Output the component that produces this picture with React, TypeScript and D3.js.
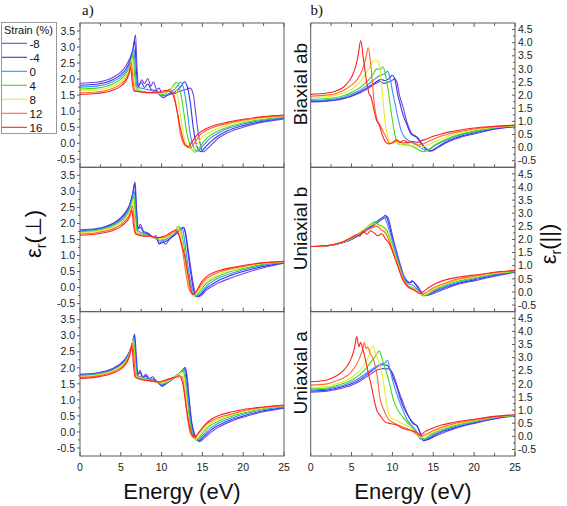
import React from "react";
import * as d3 from "d3";

type Pt = [number, number];

const STRAINS = ["-8", "-4", "0", "4", "8", "12", "16"];
const COLORS = ["#7a3fe0", "#3434ee", "#3d8ef5", "#3ddc1a", "#e2ee2a", "#ff6633", "#ff1f1f"];
const X_TICKS = [0, 5, 10, 15, 20, 25];
const PERP_TICKS = [-0.5, 0, 0.5, 1, 1.5, 2, 2.5, 3, 3.5];
const PAR_TICKS = [-0.5, 0, 0.5, 1, 1.5, 2, 2.5, 3, 3.5, 4, 4.5];
const ROW_LABELS = ["Biaxial ab", "Uniaxial b", "Uniaxial a"];

// ε(⊥), biaxial ab strain — series ordered -8, -4, 0, 4, 8, 12, 16 %
const perpBiaxialAb: Pt[][] = [
  [[0,1.87],[2,1.9],[4,2.05],[5,2.22],[5.6,2.4],[6.1,2.65],[6.5,2.95],[6.8,3.38],[7.0,2.3],[7.2,1.78],[7.55,1.98],[7.9,1.86],[8.3,2.02],[8.7,1.78],[9.0,1.92],[9.4,1.68],[9.7,1.72],[10.1,1.5],[10.5,1.48],[11.0,1.56],[11.6,1.55],[12.2,1.62],[12.8,1.66],[13.5,1.72],[13.9,1.5],[14.2,0.9],[14.5,0.3],[14.8,-0.1],[15.1,-0.27],[15.5,-0.2],[16.2,-0.02],[17,0.17],[18,0.32],[20,0.5],[22.5,0.66],[25,0.76]],
  [[0,1.81],[2,1.84],[4,1.98],[5,2.14],[5.6,2.3],[6.1,2.55],[6.45,2.85],[6.7,3.2],[6.9,2.3],[7.1,1.75],[7.5,1.9],[7.9,1.74],[8.3,1.85],[8.8,1.66],[9.3,1.65],[9.8,1.5],[10.2,1.42],[10.7,1.5],[11.3,1.55],[11.9,1.65],[12.4,1.78],[12.8,1.92],[13.1,1.8],[13.5,1.3],[13.9,0.45],[14.3,-0.08],[14.8,-0.26],[15.3,-0.14],[16,0.04],[17,0.24],[18,0.38],[20,0.55],[22.5,0.69],[25,0.78]],
  [[0,1.75],[2,1.78],[4,1.92],[5,2.07],[5.6,2.22],[6.1,2.45],[6.4,2.7],[6.6,2.98],[6.8,2.2],[7.0,1.74],[7.5,1.72],[8.0,1.69],[8.5,1.66],[9.0,1.62],[9.5,1.56],[10.0,1.48],[10.5,1.5],[11.2,1.6],[11.8,1.74],[12.3,1.9],[12.7,1.72],[13.1,1.1],[13.5,0.3],[13.9,-0.1],[14.4,-0.25],[15,-0.1],[15.8,0.12],[17,0.33],[18,0.45],[20,0.6],[22.5,0.72],[25,0.8]],
  [[0,1.69],[2,1.72],[4,1.85],[5,2.0],[5.6,2.15],[6.0,2.35],[6.3,2.58],[6.5,2.82],[6.7,2.1],[6.9,1.7],[7.5,1.63],[8.5,1.59],[9.5,1.56],[10.2,1.52],[10.8,1.62],[11.3,1.75],[11.8,1.9],[12.2,1.72],[12.7,1.0],[13.1,0.3],[13.6,-0.12],[14.1,-0.28],[14.6,-0.15],[15.3,0.1],[16,0.25],[17,0.39],[18,0.49],[20,0.64],[22.5,0.75],[25,0.82]],
  [[0,1.63],[2,1.66],[4,1.78],[5,1.92],[5.6,2.07],[6.0,2.26],[6.25,2.45],[6.4,2.66],[6.6,2.0],[6.8,1.68],[7.5,1.61],[8.5,1.59],[9.5,1.56],[10.3,1.56],[10.9,1.66],[11.4,1.76],[11.8,1.64],[12.3,0.9],[12.7,0.25],[13.2,-0.1],[13.8,-0.2],[14.3,-0.05],[15,0.2],[16,0.36],[17,0.47],[18,0.55],[20,0.68],[22.5,0.78],[25,0.84]],
  [[0,1.57],[2,1.6],[4,1.71],[5,1.85],[5.5,1.97],[5.9,2.15],[6.15,2.32],[6.3,2.52],[6.5,1.95],[6.7,1.65],[7.5,1.6],[8.5,1.58],[9.5,1.58],[10.4,1.6],[11.0,1.68],[11.4,1.58],[11.9,1.0],[12.3,0.3],[12.8,-0.05],[13.5,-0.15],[14.0,0.0],[14.7,0.26],[15.5,0.4],[16.5,0.51],[18,0.61],[20,0.72],[22.5,0.81],[25,0.86]],
  [[0,1.52],[2,1.55],[4,1.65],[5,1.78],[5.5,1.9],[5.8,2.03],[6.05,2.2],[6.2,2.38],[6.4,1.9],[6.6,1.63],[7.5,1.6],[8.5,1.58],[9.5,1.59],[10.5,1.64],[11.0,1.62],[11.5,1.45],[11.9,1.0],[12.4,0.35],[12.9,-0.05],[13.3,-0.1],[13.8,0.08],[14.5,0.3],[15.5,0.46],[16.5,0.56],[18,0.65],[20,0.75],[22.5,0.83],[25,0.88]],
];

// ε(⊥), uniaxial b strain
const perpUniaxialB: Pt[][] = [
  [[0,1.8],[2,1.84],[4,2.0],[5,2.18],[5.6,2.36],[6.1,2.6],[6.5,2.95],[6.75,3.3],[6.95,2.4],[7.15,1.85],[7.4,1.97],[7.8,1.75],[8.2,1.72],[8.6,1.64],[9.0,1.55],[9.3,1.62],[9.7,1.35],[10.1,1.45],[10.5,1.35],[11.0,1.52],[11.5,1.62],[12.0,1.74],[12.4,1.84],[12.7,1.88],[12.95,1.7],[13.3,1.1],[13.7,0.4],[14.0,-0.05],[14.4,-0.29],[14.9,-0.24],[15.5,-0.08],[16.3,0.05],[17.2,0.17],[18.5,0.3],[20,0.43],[22.5,0.62],[25,0.76]],
  [[0,1.78],[2,1.82],[4,1.98],[5,2.15],[5.6,2.33],[6.1,2.57],[6.45,2.92],[6.7,3.25],[6.9,2.4],[7.1,1.82],[7.4,1.88],[7.8,1.72],[8.3,1.68],[8.8,1.6],[9.3,1.55],[9.8,1.38],[10.3,1.42],[10.8,1.48],[11.4,1.6],[12.0,1.72],[12.4,1.82],[12.7,1.87],[12.9,1.72],[13.2,1.15],[13.6,0.4],[13.9,-0.05],[14.3,-0.28],[14.8,-0.22],[15.5,-0.02],[16.3,0.12],[17.2,0.25],[18.5,0.38],[20,0.5],[22.5,0.66],[25,0.77]],
  [[0,1.76],[2,1.8],[4,1.95],[5,2.11],[5.6,2.28],[6.1,2.5],[6.4,2.75],[6.65,3.02],[6.85,2.3],[7.05,1.78],[7.5,1.72],[8,1.66],[8.5,1.62],[9,1.58],[9.5,1.5],[10,1.45],[10.5,1.5],[11.1,1.58],[11.7,1.72],[12.3,1.86],[12.6,1.8],[12.9,1.3],[13.3,0.55],[13.7,0.0],[14.2,-0.27],[14.7,-0.2],[15.4,0.02],[16.3,0.2],[17.2,0.32],[18.5,0.44],[20,0.55],[22.5,0.7],[25,0.78]],
  [[0,1.74],[2,1.78],[4,1.92],[5,2.07],[5.6,2.22],[6.05,2.42],[6.35,2.62],[6.6,2.85],[6.8,2.2],[7.0,1.72],[7.5,1.67],[8.5,1.6],[9.5,1.54],[10.2,1.5],[10.8,1.58],[11.5,1.72],[12.1,1.91],[12.4,1.75],[12.8,1.2],[13.2,0.45],[13.6,-0.05],[14.1,-0.27],[14.6,-0.15],[15.3,0.08],[16.3,0.27],[17.2,0.38],[18.5,0.5],[20,0.59],[22.5,0.73],[25,0.79]],
  [[0,1.71],[2,1.75],[4,1.88],[5,2.02],[5.6,2.16],[6.0,2.33],[6.3,2.5],[6.5,2.72],[6.7,2.1],[6.9,1.7],[7.5,1.65],[8.5,1.6],[9.5,1.55],[10.3,1.52],[10.9,1.6],[11.5,1.72],[12.0,1.85],[12.3,1.7],[12.7,1.15],[13.1,0.4],[13.5,-0.08],[14.0,-0.25],[14.5,-0.12],[15.2,0.12],[16.3,0.33],[17.2,0.44],[18.5,0.55],[20,0.63],[22.5,0.76],[25,0.8]],
  [[0,1.67],[2,1.71],[4,1.83],[5,1.96],[5.6,2.1],[6.0,2.25],[6.25,2.4],[6.45,2.55],[6.65,2.0],[6.85,1.68],[7.5,1.63],[8.5,1.6],[9.5,1.56],[10.3,1.56],[10.9,1.64],[11.4,1.74],[11.8,1.8],[12.2,1.62],[12.6,1.1],[13.0,0.4],[13.4,-0.08],[13.9,-0.22],[14.4,-0.08],[15.1,0.18],[16.3,0.4],[17.2,0.5],[18.5,0.59],[20,0.66],[22.5,0.78],[25,0.81]],
  [[0,1.63],[2,1.67],[4,1.78],[5,1.9],[5.6,2.03],[6.0,2.17],[6.2,2.3],[6.35,2.42],[6.55,1.95],[6.8,1.68],[7.5,1.62],[8.0,1.6],[8.5,1.62],[9.0,1.58],[9.5,1.55],[10.0,1.58],[10.5,1.62],[11.0,1.7],[11.6,1.78],[12.0,1.7],[12.4,1.4],[12.9,0.9],[13.3,0.3],[13.6,-0.1],[13.9,-0.22],[14.3,-0.1],[14.9,0.18],[15.5,0.34],[16.3,0.46],[17.2,0.54],[18.5,0.62],[20,0.69],[22.5,0.77],[25,0.82]],
];

// ε(⊥), uniaxial a strain
const perpUniaxialA: Pt[][] = [
  [[0,1.8],[2,1.84],[4,1.98],[5,2.14],[5.6,2.3],[6.1,2.52],[6.45,2.78],[6.7,3.05],[6.9,2.4],[7.1,1.8],[7.35,1.92],[7.7,1.72],[8.1,1.8],[8.5,1.66],[8.9,1.72],[9.3,1.6],[9.7,1.52],[10.1,1.42],[10.5,1.5],[11.0,1.6],[11.5,1.7],[12.0,1.8],[12.5,1.9],[12.9,2.02],[13.1,1.8],[13.4,1.0],[13.7,0.3],[14.1,-0.1],[14.6,-0.3],[15.2,-0.2],[16,-0.02],[17,0.15],[18.5,0.33],[20,0.46],[22.5,0.63],[25,0.74]],
  [[0,1.79],[2,1.83],[4,1.96],[5,2.12],[5.6,2.28],[6.05,2.5],[6.4,2.75],[6.65,3.0],[6.85,2.35],[7.05,1.78],[7.35,1.85],[7.7,1.7],[8.1,1.75],[8.5,1.64],[9.0,1.65],[9.5,1.55],[10.0,1.45],[10.5,1.5],[11.0,1.58],[11.6,1.7],[12.2,1.82],[12.6,1.92],[12.85,1.98],[13.05,1.75],[13.35,1.0],[13.65,0.3],[14.0,-0.08],[14.5,-0.28],[15.1,-0.16],[16,0.05],[17,0.21],[18.5,0.38],[20,0.5],[22.5,0.66],[25,0.76]],
  [[0,1.77],[2,1.81],[4,1.94],[5,2.09],[5.6,2.25],[6.05,2.46],[6.35,2.7],[6.6,2.95],[6.8,2.3],[7.0,1.76],[7.5,1.72],[8,1.68],[8.5,1.64],[9,1.6],[9.5,1.55],[10,1.48],[10.5,1.52],[11.1,1.6],[11.7,1.72],[12.3,1.86],[12.75,1.95],[12.95,1.72],[13.25,1.0],[13.55,0.3],[13.9,-0.08],[14.4,-0.26],[15,-0.12],[16,0.12],[17,0.28],[18.5,0.43],[20,0.55],[22.5,0.7],[25,0.78]],
  [[0,1.75],[2,1.79],[4,1.92],[5,2.07],[5.6,2.22],[6.0,2.42],[6.3,2.65],[6.55,2.9],[6.75,2.25],[6.95,1.74],[7.5,1.68],[8.5,1.62],[9.5,1.56],[10.2,1.52],[10.8,1.58],[11.5,1.7],[12.1,1.82],[12.6,1.92],[12.85,1.7],[13.15,1.0],[13.45,0.3],[13.8,-0.08],[14.3,-0.24],[14.9,-0.08],[15.8,0.17],[17,0.34],[18.5,0.48],[20,0.59],[22.5,0.73],[25,0.8]],
  [[0,1.73],[2,1.77],[4,1.9],[5,2.04],[5.6,2.19],[6.0,2.38],[6.25,2.6],[6.5,2.85],[6.7,2.2],[6.9,1.73],[7.5,1.66],[8.5,1.61],[9.5,1.56],[10.3,1.55],[10.9,1.6],[11.5,1.7],[12.0,1.78],[12.5,1.85],[12.75,1.65],[13.05,1.0],[13.35,0.3],[13.7,-0.08],[14.2,-0.22],[14.8,-0.04],[15.6,0.2],[17,0.4],[18.5,0.52],[20,0.63],[22.5,0.75],[25,0.81]],
  [[0,1.7],[2,1.74],[4,1.87],[5,2.0],[5.6,2.15],[5.95,2.32],[6.2,2.52],[6.45,2.78],[6.65,2.15],[6.85,1.72],[7.5,1.65],[8.5,1.6],[9.5,1.56],[10.4,1.58],[11.0,1.64],[11.6,1.7],[12.1,1.76],[12.5,1.72],[12.85,1.2],[13.2,0.4],[13.55,-0.05],[14.0,-0.19],[14.6,-0.02],[15.4,0.22],[16.5,0.4],[17.5,0.49],[18.5,0.55],[20,0.66],[22.5,0.77],[25,0.82]],
  [[0,1.67],[2,1.71],[4,1.83],[5,1.96],[5.5,2.08],[5.9,2.25],[6.15,2.45],[6.35,2.7],[6.55,2.1],[6.75,1.72],[7.5,1.63],[8.5,1.6],[9.5,1.56],[10.5,1.62],[11.5,1.7],[12.2,1.72],[12.6,1.5],[13.0,0.8],[13.4,0.2],[13.8,-0.1],[14.1,-0.16],[14.6,0.0],[15.3,0.22],[16.0,0.38],[17.2,0.53],[18.5,0.62],[20,0.7],[22.5,0.78],[25,0.84]],
];

// ε(||), biaxial ab strain
const parBiaxialAb: Pt[][] = [
  [[0,1.74],[2,1.77],[4,1.86],[5,1.96],[6,2.08],[7,2.25],[7.6,2.38],[8.0,2.45],[8.5,2.52],[9.0,2.45],[9.5,2.5],[9.9,2.55],[10.3,2.62],[10.55,2.5],[10.9,1.95],[11.3,1.55],[11.75,1.0],[12.1,0.7],[12.4,0.52],[12.8,0.45],[13.1,0.38],[13.5,0.2],[14.0,0.0],[14.4,-0.08],[14.8,-0.13],[15.3,-0.05],[16,0.08],[17,0.24],[18,0.36],[20,0.52],[22.5,0.7],[25,0.8]],
  [[0,1.76],[2,1.79],[4,1.88],[5,1.98],[6,2.12],[7,2.3],[7.5,2.4],[8.0,2.5],[8.6,2.6],[9.1,2.55],[9.6,2.64],[10.0,2.76],[10.3,2.6],[10.7,1.95],[11.0,1.6],[11.3,1.25],[11.8,0.85],[12.2,0.55],[12.6,0.45],[13.0,0.38],[13.4,0.2],[13.9,0.0],[14.5,-0.14],[15.0,-0.08],[16,0.12],[17,0.28],[18,0.4],[20,0.56],[22.5,0.72],[25,0.81]],
  [[0,1.79],[2,1.82],[4,1.92],[5,2.03],[6,2.18],[7,2.4],[7.6,2.55],[8.2,2.7],[8.7,2.78],[9.1,2.82],[9.4,2.92],[9.7,2.65],[10.1,2.0],[10.4,1.55],[10.7,1.1],[11.1,0.62],[11.5,0.4],[11.8,0.3],[12.3,0.22],[12.8,0.15],[13.3,0.05],[14.0,-0.1],[14.5,-0.07],[15.2,0.08],[16,0.2],[17,0.34],[18,0.45],[20,0.6],[22.5,0.74],[25,0.82]],
  [[0,1.84],[2,1.87],[4,1.98],[5,2.1],[6,2.28],[7,2.55],[7.6,2.78],[8.1,3.0],[8.5,2.98],[8.8,3.08],[9.1,2.85],[9.5,2.15],[9.9,1.25],[10.3,0.5],[10.7,0.14],[11.2,0.12],[11.8,0.1],[12.4,0.05],[13,-0.05],[13.8,-0.16],[14.4,-0.08],[15.2,0.1],[16,0.24],[17,0.38],[18,0.48],[20,0.63],[22.5,0.76],[25,0.83]],
  [[0,1.9],[2,1.94],[4,2.08],[5,2.22],[5.8,2.42],[6.5,2.7],[7.1,3.0],[7.6,3.28],[8.0,3.34],[8.3,3.28],[8.6,2.6],[9.1,1.0],[9.5,0.35],[9.9,0.15],[10.5,0.2],[11.0,0.12],[11.6,0.15],[12.2,0.1],[12.8,0.05],[13.3,0.0],[13.9,0.05],[14.5,0.12],[15.2,0.22],[16,0.33],[17,0.45],[18,0.54],[20,0.67],[22.5,0.78],[25,0.84]],
  [[0,1.96],[2,2.0],[4,2.18],[5,2.38],[5.7,2.6],[6.3,2.95],[6.7,3.35],[7.05,3.8],[7.3,3.3],[7.55,2.5],[7.75,1.75],[8.1,1.1],[8.5,0.85],[8.9,0.6],[9.3,0.35],[9.7,0.15],[10.2,0.2],[10.6,0.28],[11.0,0.2],[11.5,0.18],[12.0,0.22],[12.6,0.15],[13.2,0.1],[13.8,0.15],[14.5,0.25],[15.2,0.35],[16,0.44],[17,0.53],[18,0.6],[20,0.71],[22.5,0.8],[25,0.85]],
  [[0,2.03],[2,2.08],[3,2.15],[4,2.3],[4.6,2.5],[5.1,2.75],[5.5,3.1],[5.8,3.5],[6.12,4.08],[6.45,3.4],[6.8,2.6],[7.1,2.1],[7.4,1.92],[7.7,1.5],[8.05,1.05],[8.4,0.85],[8.8,0.45],[9.2,0.2],[9.6,0.14],[10.1,0.22],[10.5,0.3],[10.9,0.2],[11.4,0.27],[11.9,0.18],[12.4,0.24],[13.0,0.2],[13.5,0.26],[14.2,0.33],[15,0.43],[16,0.52],[17,0.6],[18.5,0.68],[20,0.75],[22.5,0.81],[25,0.86]],
];

// ε(||), uniaxial b strain
const parUniaxialB: Pt[][] = [
  [[0,1.73],[2,1.75],[4,1.88],[5,2.0],[6,2.18],[7,2.38],[7.8,2.55],[8.5,2.72],[9.0,2.82],[9.35,2.88],[9.6,2.72],[9.9,2.3],[10.2,1.9],[10.6,1.45],[11.0,1.0],[11.4,0.62],[11.8,0.42],[12.2,0.35],[12.5,0.4],[12.8,0.32],[13.1,0.22],[13.5,0.02],[13.9,-0.14],[14.5,-0.12],[15.3,-0.02],[16.3,0.1],[17.5,0.24],[19,0.36],[20,0.42],[22.5,0.6],[25,0.74]],
  [[0,1.73],[2,1.75],[4,1.88],[5,2.01],[6,2.2],[7,2.42],[7.8,2.6],[8.5,2.78],[8.9,2.86],[9.15,2.92],[9.45,2.7],[9.8,2.3],[10.1,1.92],[10.5,1.45],[10.9,1.0],[11.3,0.62],[11.7,0.4],[12.1,0.35],[12.4,0.42],[12.7,0.35],[13.0,0.2],[13.4,0.0],[13.8,-0.13],[14.4,-0.1],[15.2,0.02],[16.3,0.15],[17.5,0.28],[20,0.46],[22.5,0.63],[25,0.76]],
  [[0,1.73],[2,1.76],[4,1.89],[5,2.02],[6,2.22],[7,2.45],[7.8,2.62],[8.4,2.75],[8.8,2.8],[9.0,2.85],[9.3,2.65],[9.7,2.25],[10.1,1.85],[10.5,1.4],[10.9,0.95],[11.3,0.6],[11.7,0.35],[12.1,0.3],[12.5,0.25],[13.0,0.1],[13.4,-0.05],[13.8,-0.12],[14.4,-0.08],[15.2,0.06],[16.3,0.2],[17.5,0.32],[20,0.5],[22.5,0.66],[25,0.77]],
  [[0,1.73],[2,1.76],[4,1.9],[5,2.04],[6,2.26],[6.8,2.45],[7.4,2.6],[7.9,2.68],[8.3,2.56],[8.8,2.5],[9.3,2.35],[9.7,2.05],[10.1,1.7],[10.5,1.3],[10.9,0.9],[11.3,0.55],[11.7,0.3],[12.2,0.2],[12.7,0.12],[13.2,0.0],[13.7,-0.15],[14.3,-0.1],[15.1,0.08],[16.3,0.24],[17.5,0.37],[20,0.54],[22.5,0.69],[25,0.78]],
  [[0,1.73],[2,1.76],[4,1.9],[5,2.05],[6,2.27],[6.8,2.45],[7.4,2.56],[7.8,2.6],[8.3,2.52],[8.8,2.45],[9.3,2.25],[9.7,1.95],[10.1,1.6],[10.5,1.22],[10.9,0.85],[11.3,0.5],[11.7,0.28],[12.2,0.18],[12.7,0.1],[13.2,0.0],[13.6,-0.12],[14.2,-0.08],[15.0,0.1],[16.3,0.28],[17.5,0.41],[20,0.57],[22.5,0.71],[25,0.79]],
  [[0,1.73],[2,1.76],[4,1.9],[5,2.05],[5.8,2.2],[6.5,2.32],[7.0,2.38],[7.5,2.45],[8.1,2.5],[8.6,2.38],[9.2,2.22],[9.6,1.95],[10.0,1.62],[10.4,1.25],[10.8,0.88],[11.2,0.55],[11.6,0.3],[12.1,0.15],[12.6,0.08],[13.1,-0.02],[13.5,-0.08],[14.1,-0.03],[14.9,0.14],[16.3,0.32],[17.5,0.45],[20,0.6],[22.5,0.73],[25,0.8]],
  [[0,1.73],[2,1.77],[4,1.92],[5,2.08],[5.6,2.18],[6.0,2.12],[6.4,2.3],[6.9,2.2],[7.3,2.33],[7.8,2.24],[8.2,2.14],[8.7,2.22],[9.2,2.0],[9.6,1.85],[10.0,1.55],[10.4,1.2],[10.8,0.85],[11.2,0.5],[11.6,0.3],[12.0,0.18],[12.5,0.1],[13.0,0.0],[13.3,-0.05],[13.8,0.02],[14.5,0.18],[15.5,0.35],[16.5,0.46],[18,0.56],[20,0.64],[22.5,0.75],[25,0.82]],
];

// ε(||), uniaxial a strain
const parUniaxialA: Pt[][] = [
  [[0,1.68],[2,1.72],[3,1.78],[4,1.85],[5,1.95],[6,2.1],[7,2.3],[7.7,2.45],[8.3,2.55],[8.9,2.58],[9.5,2.57],[10.0,2.42],[10.4,2.1],[10.7,1.8],[11.1,1.45],[11.6,1.03],[12.0,0.75],[12.4,0.52],[12.7,0.45],[13.0,0.4],[13.4,0.15],[13.9,-0.15],[14.4,-0.12],[15.2,0.0],[16.3,0.15],[17.5,0.28],[19,0.42],[20,0.49],[22.5,0.66],[25,0.78]],
  [[0,1.72],[2,1.76],[3,1.82],[4,1.9],[5,2.0],[6,2.16],[7,2.38],[7.8,2.58],[8.4,2.7],[8.9,2.73],[9.4,2.7],[9.8,2.5],[10.2,2.15],[10.5,1.92],[10.9,1.5],[11.3,1.15],[11.8,0.85],[12.2,0.65],[12.6,0.5],[13.0,0.4],[13.4,0.12],[13.8,-0.17],[14.3,-0.12],[15.1,0.03],[16.3,0.2],[17.5,0.32],[20,0.52],[22.5,0.68],[25,0.79]],
  [[0,1.76],[2,1.8],[3,1.87],[4,1.95],[5,2.06],[6,2.23],[7,2.45],[7.8,2.62],[8.5,2.75],[9.1,2.8],[9.4,2.9],[9.7,2.55],[10.1,2.05],[10.5,1.65],[10.9,1.3],[11.35,0.95],[11.75,0.66],[12.2,0.48],[12.6,0.34],[13.1,0.12],[13.6,-0.12],[14.1,-0.1],[15,0.06],[16.3,0.24],[17.5,0.36],[20,0.55],[22.5,0.7],[25,0.8]],
  [[0,1.8],[2,1.84],[3,1.92],[4,2.01],[5,2.14],[6,2.35],[6.8,2.6],[7.4,2.85],[7.9,3.05],[8.4,3.25],[8.7,3.0],[9.1,2.6],[9.5,2.2],[9.8,1.8],[10.1,1.42],[10.7,0.98],[11.3,0.72],[11.9,0.5],[12.5,0.3],[13.0,0.1],[13.5,-0.12],[14.0,-0.08],[14.9,0.1],[16.3,0.28],[17.5,0.4],[20,0.57],[22.5,0.72],[25,0.8]],
  [[0,1.86],[2,1.9],[3,1.99],[4,2.08],[5,2.24],[6,2.5],[6.6,2.75],[7.1,3.05],[7.6,3.45],[7.9,3.2],[8.3,2.85],[8.7,2.43],[9.1,1.67],[9.5,0.9],[9.9,0.68],[10.5,0.6],[11.1,0.5],[11.8,0.4],[12.5,0.25],[13.1,0.08],[13.5,-0.05],[14.0,0.0],[14.8,0.14],[16.3,0.32],[17.5,0.44],[20,0.6],[22.5,0.74],[25,0.8]],
  [[0,1.95],[2,2.0],[3,2.1],[4,2.22],[4.8,2.4],[5.5,2.68],[6.0,3.0],[6.35,3.3],[6.57,3.57],[6.75,3.35],[6.95,3.4],[7.3,3.15],[7.7,2.92],[8.1,2.37],[8.5,1.42],[8.9,1.04],[9.5,0.66],[10.1,0.53],[10.9,0.4],[11.6,0.32],[12.3,0.22],[12.9,0.1],[13.5,0.0],[14.1,0.08],[14.9,0.2],[16.3,0.37],[17.5,0.48],[20,0.62],[22.5,0.75],[25,0.81]],
  [[0,2.08],[2,2.15],[3,2.28],[4,2.5],[4.5,2.7],[5.0,3.0],[5.35,3.35],[5.63,3.8],[5.9,3.42],[6.1,3.58],[6.4,3.3],[6.75,2.85],[7.05,2.4],[7.4,1.95],[7.7,1.49],[8.1,0.98],[8.5,0.8],[9.1,0.55],[9.7,0.49],[10.5,0.43],[11.3,0.3],[12.2,0.23],[13.0,0.15],[13.4,0.05],[14.0,0.18],[14.8,0.3],[16,0.43],[17.5,0.53],[20,0.65],[22.5,0.76],[25,0.82]],
];

const W = 567;
const H = 506;
const ROW_TOPS = [23, 167.3, 311.7];
const ROW_H = 144.3;
const LEFT_RANGE: [number, number] = [80, 284];
const RIGHT_RANGE: [number, number] = [310.7, 515];
const FRAME = "#5c5c5c";
const FONT = "Arial, 'Liberation Sans', Helvetica, sans-serif";

const PERP_ROWS = [perpBiaxialAb, perpUniaxialB, perpUniaxialA];
const PAR_ROWS = [parBiaxialAb, parUniaxialB, parUniaxialA];

function Panel(props: { id: string; row: number; side: "L" | "R"; data: Pt[][] }) {
  const { id, row, side, data } = props;
  const top = ROW_TOPS[row];
  const bottom = top + ROW_H;
  const x = d3.scaleLinear().domain([0, 25]).range(side === "L" ? LEFT_RANGE : RIGHT_RANGE);
  const y = d3
    .scaleLinear()
    .domain(side === "L" ? [-0.75, 3.75] : [-0.75, 4.75])
    .range([bottom, top]);
  const line = d3
    .line<Pt>()
    .x((d) => x(d[0]))
    .y((d) => y(d[1]))
    .curve(d3.curveMonotoneX);
  const [x0, x1] = x.range();
  const xMinor = d3.range(0, 25.001, 2.5);
  const yMax = side === "L" ? 3.5 : 4.5;
  const yAll = d3.range(-0.5, yMax + 0.001, 0.25);
  const yLabels = side === "L" ? PERP_TICKS : PAR_TICKS;
  return (
    <g>
      <defs>
        <clipPath id={id}>
          <rect x={x0} y={top} width={x1 - x0} height={ROW_H} />
        </clipPath>
      </defs>
      <g clipPath={`url(#${id})`}>
        {data.map((s, i) => (
          <path key={i} d={line(s) || ""} fill="none" stroke={COLORS[i]} strokeWidth={1.1} strokeLinejoin="round" />
        ))}
      </g>
      <rect x={x0} y={top} width={x1 - x0} height={ROW_H} fill="none" stroke={FRAME} strokeWidth={1} />
      {xMinor.map((t) => {
        const major = Math.abs(t % 5) < 1e-6;
        const len = major ? 4 : 3;
        return (
          <g key={"xt" + t}>
            <line x1={x(t)} x2={x(t)} y1={bottom} y2={bottom - len} stroke={FRAME} />
            {row === 0 && <line x1={x(t)} x2={x(t)} y1={top} y2={top + len} stroke={FRAME} />}
          </g>
        );
      })}
      {yAll.map((t) => {
        const major = Math.abs((t * 2) % 1) < 1e-6;
        const len = major ? 3 : 2;
        return side === "L" ? (
          <line key={"yt" + t} x1={x0} x2={x0 - len} y1={y(t)} y2={y(t)} stroke={FRAME} />
        ) : (
          <line key={"yt" + t} x1={x1} x2={x1 - len} y1={y(t)} y2={y(t)} stroke={FRAME} />
        );
      })}
      {yLabels.map((t) => (
        <text
          key={"yl" + t}
          x={side === "L" ? x0 - 5 : x1 + 3}
          y={y(t) + 3.7}
          fontSize={10.5}
          fontFamily={FONT}
          fill="#222"
          textAnchor={side === "L" ? "end" : "start"}
        >
          {t.toFixed(1)}
        </text>
      ))}
      {row === 2 &&
        X_TICKS.map((t) => (
          <text key={"xl" + t} x={x(t)} y={bottom + 15} fontSize={10.5} fontFamily={FONT} fill="#222" textAnchor="middle">
            {t}
          </text>
        ))}
    </g>
  );
}

export default function App() {
  const legendTop = 43.3;
  const legendStep = 14;
  return (
    <svg
      width={W}
      height={H}
      viewBox={`0 0 ${W} ${H}`}
      style={{ position: "absolute", left: 0, top: 0, background: "#fff" }}
    >
      <rect x={0} y={0} width={W} height={H} fill="#fff" />
      {PERP_ROWS.map((d, r) => (
        <Panel key={"L" + r} id={"clipL" + r} row={r} side="L" data={d} />
      ))}
      {PAR_ROWS.map((d, r) => (
        <Panel key={"R" + r} id={"clipR" + r} row={r} side="R" data={d} />
      ))}

      {/* row labels */}
      {ROW_LABELS.map((lab, r) => {
        const cy = ROW_TOPS[r] + ROW_H / 2 - 11;
        return (
          <text
            key={lab}
            transform={`translate(306.5, ${cy}) rotate(-90)`}
            textAnchor="middle"
            fontSize={19}
            fontFamily={FONT}
            fill="#111"
          >
            {lab}
          </text>
        );
      })}

      {/* panel letters */}
      <text x={82} y={15} fontSize={15} fontFamily="'Liberation Serif', 'DejaVu Serif', serif" fill="#111">a)</text>
      <text x={310.5} y={15} fontSize={15} fontFamily="'Liberation Serif', 'DejaVu Serif', serif" fill="#111">b)</text>

      {/* axis titles */}
      <text x={182} y={499} textAnchor="middle" fontSize={22} fontFamily={FONT} fill="#111">Energy (eV)</text>
      <text x={413} y={499} textAnchor="middle" fontSize={22} fontFamily={FONT} fill="#111">Energy (eV)</text>
      <text transform="translate(41, 234) rotate(-90)" textAnchor="middle" fontSize={22} fontFamily={FONT} fill="#111">
        ε<tspan fontSize={14} dy={5}>r</tspan>
        <tspan dy={-5}>(⊥)</tspan>
      </text>
      <text transform="translate(556, 244) rotate(-90)" textAnchor="middle" fontSize={22} fontFamily={FONT} fill="#111">
        ε<tspan fontSize={14} dy={5}>r</tspan>
        <tspan dy={-5}>(||)</tspan>
      </text>

      {/* legend */}
      <g>
        <rect x={1.5} y={22.5} width={55} height={111} fill="#fff" stroke="#9a9a9a" strokeWidth={1} />
        <text x={4} y={34} fontSize={11} fontFamily={FONT} fill="#111">Strain (%)</text>
        {STRAINS.map((s, i) => {
          const ly = legendTop + i * legendStep;
          return (
            <g key={s}>
              <line x1={2} x2={27} y1={ly} y2={ly} stroke={COLORS[i]} strokeWidth={1.1} />
              <text x={29.5} y={ly + 4.5} fontSize={11.5} fontFamily={FONT} fill="#111">{s}</text>
            </g>
          );
        })}
      </g>
    </svg>
  );
}
